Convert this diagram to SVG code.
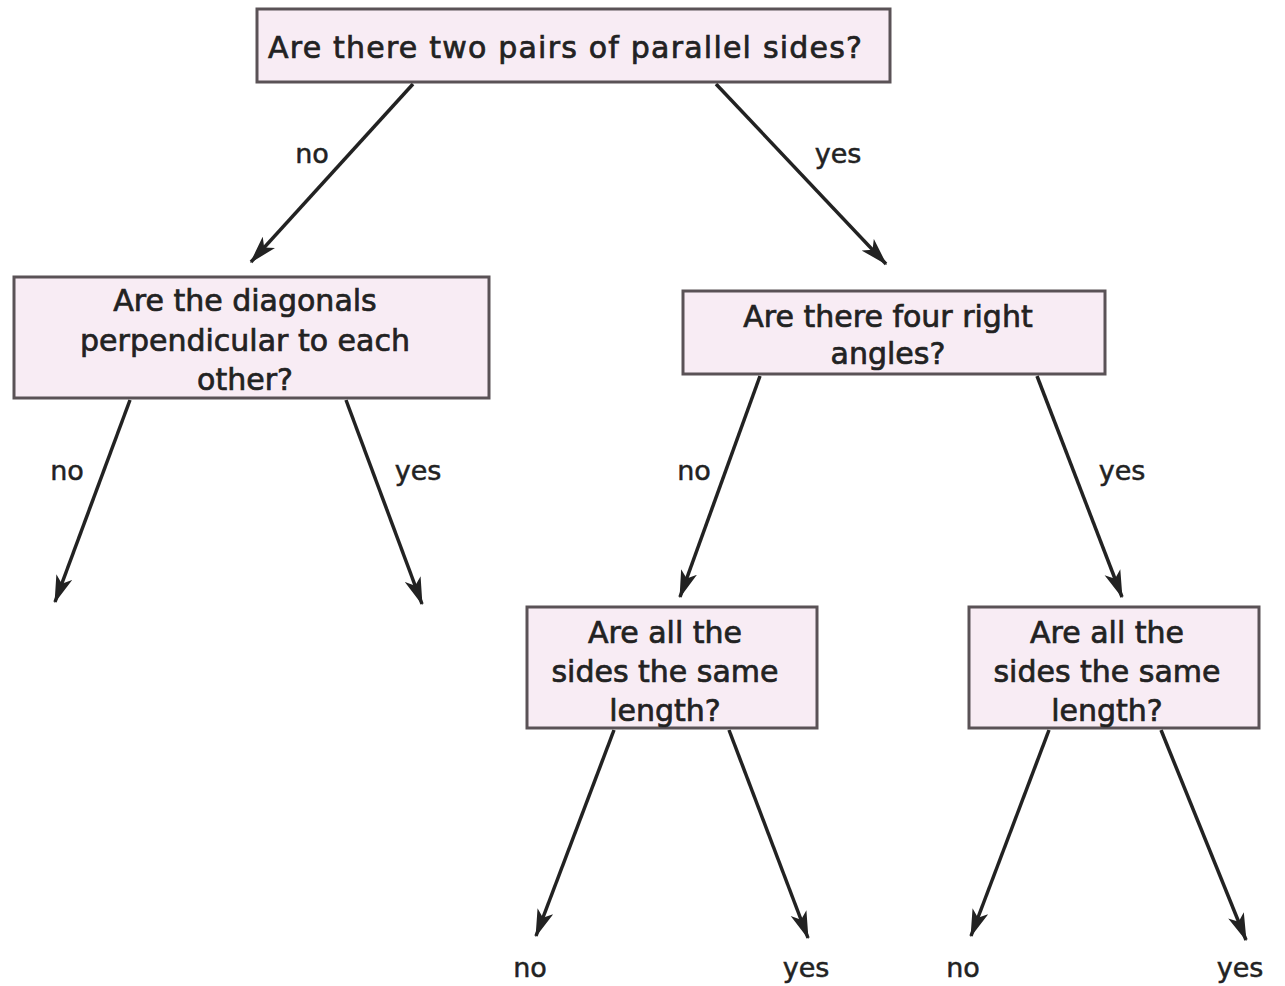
<svg xmlns="http://www.w3.org/2000/svg" width="1285" height="986" viewBox="0 0 1285 986">
<style>
.box{fill:#f8ecf4;stroke:#5a5256;stroke-width:3}
.t{font-family:"DejaVu Sans","Liberation Sans",sans-serif;font-size:30px;fill:#222;stroke:#222;stroke-width:0.7;text-anchor:middle}
.l{font-family:"DejaVu Sans","Liberation Sans",sans-serif;font-size:27px;fill:#222;stroke:#222;stroke-width:0.5;text-anchor:middle}
.c{stroke:#222;stroke-width:3.5;fill:none;marker-end:url(#ah)}
</style>
<defs>
<marker id="ah" viewBox="0 0 20 12" refX="19" refY="6" markerWidth="8" markerHeight="5" orient="auto" markerUnits="strokeWidth">
<path d="M0,0 L20,6 L0,12 L5,6 Z" fill="#222"/>
</marker>
</defs>
<rect width="1285" height="986" fill="#fff"/>
<g id="connectors">
<line class="c" x1="413" y1="84" x2="251" y2="262"/>
<line class="c" x1="716" y1="84" x2="886" y2="264"/>
<line class="c" x1="130" y1="400" x2="55" y2="602"/>
<line class="c" x1="346" y1="400" x2="422" y2="604"/>
<line class="c" x1="760" y1="376" x2="680" y2="597"/>
<line class="c" x1="1037" y1="376" x2="1122" y2="597"/>
<line class="c" x1="614" y1="730" x2="536" y2="936"/>
<line class="c" x1="729" y1="730" x2="808" y2="938"/>
<line class="c" x1="1049" y1="730" x2="971" y2="936"/>
<line class="c" x1="1161" y1="730" x2="1246" y2="940"/>
<text class="l" x="312" y="163">no</text>
<text class="l" x="838" y="163">yes</text>
<text class="l" x="67" y="480">no</text>
<text class="l" x="418" y="480">yes</text>
<text class="l" x="694" y="480">no</text>
<text class="l" x="1122" y="480">yes</text>
<text class="l" x="530" y="977">no</text>
<text class="l" x="806" y="977">yes</text>
<text class="l" x="963" y="977">no</text>
<text class="l" x="1240" y="977">yes</text>
</g>
<g id="n1">
<rect class="box" x="257" y="9" width="633" height="73"/>
<text class="t" x="565" y="58" textLength="594">Are there two pairs of parallel sides?</text>
</g>
<g id="n2">
<rect class="box" x="14" y="277" width="475" height="121"/>
<text class="t" x="245" y="311">Are the diagonals</text>
<text class="t" x="245" y="351">perpendicular to each</text>
<text class="t" x="245" y="390">other?</text>
</g>
<g id="n3">
<rect class="box" x="683" y="291" width="422" height="83"/>
<text class="t" x="888" y="327">Are there four right</text>
<text class="t" x="888" y="364">angles?</text>
</g>
<g id="n4">
<rect class="box" x="527" y="607" width="290" height="121"/>
<text class="t" x="665" y="643">Are all the</text>
<text class="t" x="665" y="682">sides the same</text>
<text class="t" x="665" y="721">length?</text>
</g>
<g id="n5">
<rect class="box" x="969" y="607" width="290" height="121"/>
<text class="t" x="1107" y="643">Are all the</text>
<text class="t" x="1107" y="682">sides the same</text>
<text class="t" x="1107" y="721">length?</text>
</g>
</svg>
